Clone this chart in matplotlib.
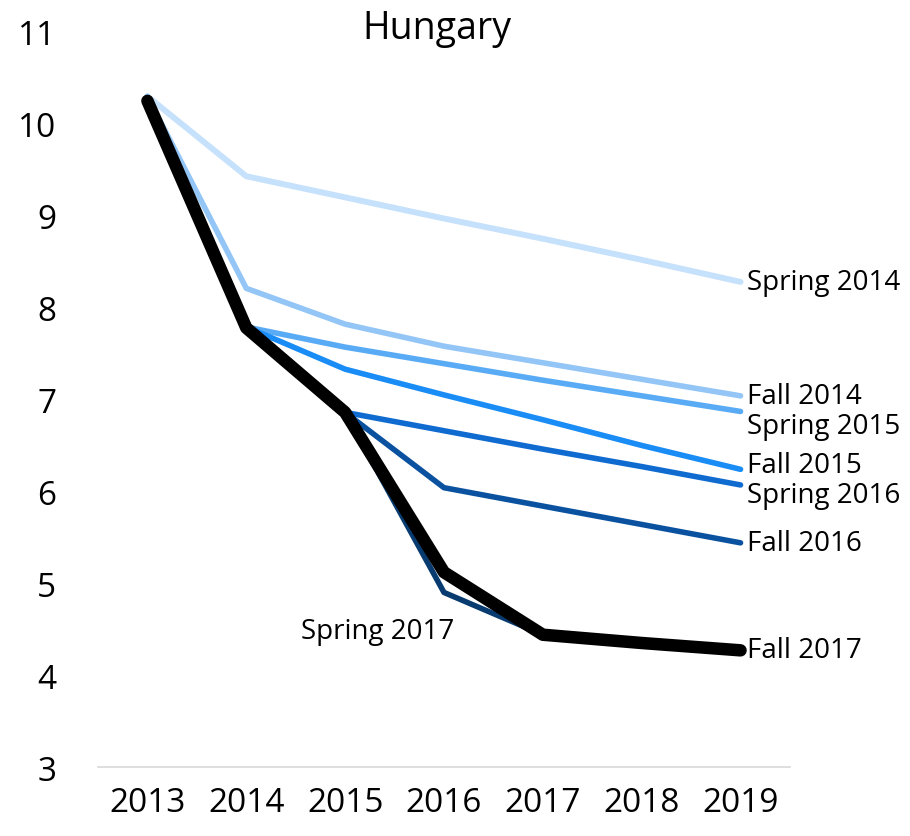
import matplotlib
matplotlib.use("Agg")
import matplotlib.pyplot as plt
import numpy as np

plt.rcParams['font.family'] = ['Open Sans', 'DejaVu Sans']

# Data
years = ['2013', '2014', '2015', '2016', '2017', '2018', '2019']
nan = np.nan
spring_2014 = [10.30, 9.43, 9.20, 8.97, 8.75, 8.52, 8.28]
fall_2014 = [10.30, 8.21, 7.82, 7.58, 7.40, 7.22, 7.04]
spring_2015 = [nan, 7.79, 7.57, 7.39, 7.21, 7.04, 6.87]
fall_2015 = [nan, 7.79, 7.33, 7.05, 6.78, 6.50, 6.24]
spring_2016 = [nan, nan, 6.86, 6.66, 6.46, 6.27, 6.07]
fall_2016 = [nan, nan, 6.86, 6.04, 5.84, 5.64, 5.44]
spring_2017 = [nan, nan, 6.86, 4.90, 4.44, 4.35, 4.27]
fall_2017 = [10.25, 7.78, 6.86, 5.12, 4.44, 4.35, 4.27]

series = [
    ('Spring 2014', spring_2014, '#c6e1fb', 4.3),
    ('Fall 2014', fall_2014, '#93c6f6', 4.0),
    ('Spring 2015', spring_2015, '#5aabf5', 4.0),
    ('Fall 2015', fall_2015, '#1a8cf5', 4.0),
    ('Spring 2016', spring_2016, '#0f6bd0', 4.0),
    ('Fall 2016', fall_2016, '#0a52a0', 4.0),
    ('Spring 2017', spring_2017, '#083c70', 4.0),
    ('Fall 2017', fall_2017, '#000000', 9.0),
]

# label y positions (data units) where they were nudged apart
label_y = {'Spring 2015': 6.71, 'Fall 2015': 6.29, 'Spring 2016': 5.96}

fig = plt.figure(figsize=(9.1, 8.37), dpi=100)
ax = fig.add_axes([0.1077, 0.0824, 0.7604, 0.8782])

x = np.arange(len(years))
for name, vals, color, lw in series:
    ax.plot(x, vals, color=color, lw=lw, solid_capstyle='round',
            solid_joinstyle='round')
    if name == 'Spring 2017':
        ax.text(2.33, 4.48, name, fontsize=20, ha='center', va='center')
    else:
        ax.text(x[-1] + 0.07, label_y.get(name, vals[-1]), name,
                fontsize=20, ha='left', va='center')

ax.set_xlim(-0.5, len(years) - 0.5)
ax.set_ylim(3, 11)
ax.set_xticks(x)
ax.set_xticklabels(years)
ax.set_yticks(range(3, 12))
ax.tick_params(axis='both', length=0, labelsize=24)
ax.tick_params(axis='x', pad=14)
ax.tick_params(axis='y', pad=30)

for side in ['top', 'right', 'left']:
    ax.spines[side].set_visible(False)
ax.spines['bottom'].set_color('#d9d9d9')
ax.spines['bottom'].set_linewidth(1.2)

ax.text(0.49, 1.006, 'Hungary', transform=ax.transAxes, fontsize=27,
        ha='center', va='center')

fig.savefig('out.png', dpi=100)
